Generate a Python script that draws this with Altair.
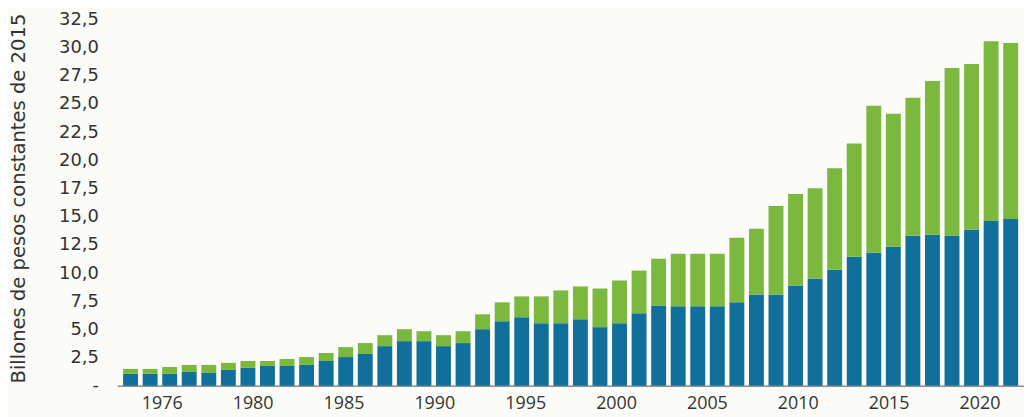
import altair as alt
import pandas as pd

# Years represented by the bars
years = list(range(1976, 2022))

# Total height of each bar (billones de pesos constantes de 2015)
totals = [1.50, 1.50, 1.67, 1.85, 1.85, 2.03, 2.20, 2.20, 2.38, 2.55,
          2.91, 3.43, 3.79, 4.49, 5.02, 4.84, 4.49, 4.84, 6.34, 7.40,
          7.93, 7.93, 8.46, 8.81, 8.63, 9.34, 10.22, 11.27, 11.71, 11.71,
          11.71, 13.12, 13.92, 15.94, 17.00, 17.53, 19.29, 21.49, 24.84, 24.13,
          25.54, 27.04, 28.18, 28.54, 30.56, 30.39]

# Lower (blue) segment of each bar
blue = [1.06, 1.06, 1.06, 1.23, 1.14, 1.41, 1.59, 1.76, 1.76, 1.85,
        2.20, 2.55, 2.82, 3.52, 3.96, 3.96, 3.52, 3.79, 5.02, 5.72,
        6.08, 5.55, 5.55, 5.90, 5.20, 5.55, 6.43, 7.13, 7.05, 7.05,
        7.05, 7.40, 8.10, 8.10, 8.90, 9.51, 10.30, 11.45, 11.80, 12.33,
        13.30, 13.39, 13.30, 13.83, 14.62, 14.80]

# Tick labels shown under the x axis
x_labels = ["1976", "1980", "1985", "1990", "1995", "2000", "2005", "2010", "2015", "2020"]

y_ticks = [0, 2.5, 5, 7.5, 10, 12.5, 15, 17.5, 20, 22.5, 25, 27.5, 30, 32.5]

series = ["azul", "verde"]
colors = ["#11709B", "#7AB83E"]

rows = []
for y, t, b in zip(years, totals, blue):
    rows.append({"anio": y, "serie": "azul", "valor": b, "orden": 0})
    rows.append({"anio": y, "serie": "verde", "valor": round(t - b, 2), "orden": 1})
df = pd.DataFrame(rows)

lab_df = pd.DataFrame({"etiqueta": x_labels})

FONT = "Open Sans"
YFONT = "DejaVu Sans"
TXT = "#333333"

bars = alt.Chart(df).mark_bar().encode(
    x=alt.X("anio:O",
            scale=alt.Scale(paddingInner=0.238, paddingOuter=0.30),
            axis=alt.Axis(title=None, labels=False, ticks=False, domain=True,
                          domainColor="#8c8c8c", domainWidth=1.5)),
    y=alt.Y("valor:Q", stack="zero",
            scale=alt.Scale(domain=[0, 32.5], nice=False, zero=True),
            axis=alt.Axis(values=y_ticks, grid=False, ticks=False, domain=False,
                          labelExpr="datum.value == 0 ? '-' : replace(format(datum.value, '.1f'), '.', ',')",
                          labelFont=YFONT, labelFontSize=18, labelColor=TXT, labelPadding=19,
                          title="Billones de pesos constantes de 2015",
                          titleFont=YFONT, titleFontSize=19.7, titleFontWeight="normal",
                          titleColor=TXT, titleAngle=270, titleX=-93, titleY=180,
                          titleAlign="center", titleBaseline="alphabetic")),
    color=alt.Color("serie:N", scale=alt.Scale(domain=series, range=colors), legend=None),
    order=alt.Order("orden:Q"),
)

labels = alt.Chart(lab_df).mark_point(opacity=0).encode(
    x=alt.X("etiqueta:O", sort=None,
            scale=alt.Scale(type="point", padding=0.49),
            axis=alt.Axis(orient="bottom", title=None, ticks=False, domain=False,
                          labelFont=FONT, labelFontSize=18, labelColor=TXT,
                          labelPadding=9, labelAngle=0)),
)

chart = alt.layer(bars, labels).resolve_scale(x="independent").properties(
    width=913,
    height=369,
    autosize=alt.AutoSizeParams(type="none"),
    padding={"left": 110, "top": 10, "right": 0, "bottom": 30},
    background="#FBFCF7",
).configure_view(stroke=None)

chart.save("out.html", embed_options={"renderer": "svg", "actions": False})
